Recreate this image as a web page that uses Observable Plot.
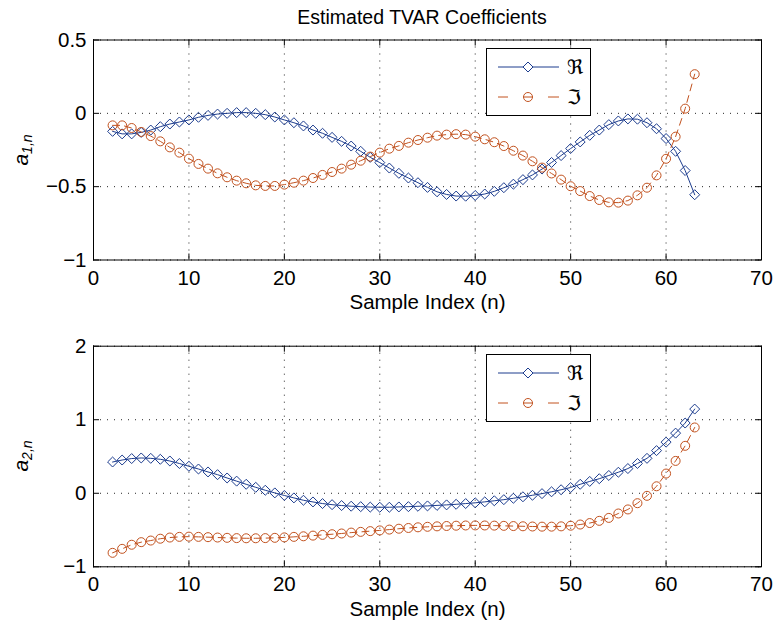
<!DOCTYPE html>
<html>
<head>
<meta charset="utf-8">
<script src="https://cdn.jsdelivr.net/npm/d3@7"></script>
<script src="https://cdn.jsdelivr.net/npm/@observablehq/plot@0.6"></script>
<style>
  html, body { margin: 0; padding: 0; background: white; }
  #wrap { position: relative; width: 773px; height: 623px; overflow: hidden; font-family: "Liberation Sans", Arial, Helvetica, sans-serif; }
  .abs { position: absolute; }
  #title { left: 0; width: 844px; text-align: center; top: 6px; font-size: 19.5px; line-height: 22px; white-space: nowrap; }
  .ylab { font-size: 21px; font-style: italic; white-space: nowrap; transform: translate(-50%, -50%) rotate(-90deg); line-height: 1; }
  .ylab sub { font-size: 14px; vertical-align: -4px; }
</style>
</head>
<body>
<div id="wrap">
  <div id="title" class="abs">Estimated TVAR Coefficients</div>
</div>
<script>
// ---------- data ----------
const sampleIndex = d3.range(2, 64); // n = 2..63

const a1Real = [
  -0.123, -0.140, -0.140, -0.130, -0.114, -0.091, -0.073, -0.059, -0.045, -0.027,
  -0.014, -0.005, 0.000, 0.005, 0.005, 0.000, -0.009, -0.025, -0.045, -0.064,
  -0.086, -0.114, -0.136, -0.164, -0.191, -0.223, -0.259, -0.300, -0.336, -0.373,
  -0.409, -0.441, -0.473, -0.505, -0.535, -0.553, -0.564, -0.565, -0.560, -0.550,
  -0.532, -0.507, -0.483, -0.452, -0.420, -0.380, -0.335, -0.288, -0.240, -0.195,
  -0.150, -0.114, -0.077, -0.052, -0.038, -0.040, -0.064, -0.105, -0.172, -0.259,
  -0.390, -0.555
];
const a1Imag = [
  -0.082, -0.082, -0.100, -0.127, -0.155, -0.191, -0.232, -0.268, -0.309, -0.345,
  -0.377, -0.409, -0.436, -0.459, -0.477, -0.491, -0.495, -0.495, -0.486, -0.473,
  -0.459, -0.441, -0.420, -0.400, -0.377, -0.350, -0.323, -0.295, -0.268, -0.241,
  -0.222, -0.200, -0.182, -0.166, -0.152, -0.145, -0.142, -0.145, -0.159, -0.177,
  -0.197, -0.223, -0.255, -0.288, -0.327, -0.370, -0.410, -0.452, -0.497, -0.530,
  -0.564, -0.591, -0.607, -0.609, -0.595, -0.559, -0.507, -0.423, -0.310, -0.159,
  0.032, 0.267
];
const a2Real = [
  0.425, 0.452, 0.472, 0.480, 0.475, 0.462, 0.439, 0.405, 0.367, 0.330,
  0.290, 0.253, 0.208, 0.165, 0.122, 0.081, 0.041, 0.005, -0.030, -0.063,
  -0.095, -0.118, -0.140, -0.155, -0.167, -0.176, -0.182, -0.188, -0.190, -0.190,
  -0.186, -0.182, -0.177, -0.172, -0.165, -0.158, -0.150, -0.140, -0.130, -0.117,
  -0.102, -0.087, -0.068, -0.048, -0.027, -0.005, 0.020, 0.048, 0.078, 0.122,
  0.161, 0.198, 0.242, 0.286, 0.336, 0.405, 0.475, 0.580, 0.695, 0.818,
  0.955, 1.145
];
const a2Imag = [
  -0.810, -0.756, -0.700, -0.665, -0.643, -0.618, -0.602, -0.593, -0.590, -0.593,
  -0.597, -0.602, -0.606, -0.610, -0.612, -0.612, -0.610, -0.606, -0.600, -0.593,
  -0.585, -0.576, -0.566, -0.557, -0.547, -0.535, -0.525, -0.515, -0.505, -0.494,
  -0.482, -0.472, -0.463, -0.456, -0.450, -0.445, -0.441, -0.438, -0.437, -0.438,
  -0.440, -0.443, -0.446, -0.449, -0.452, -0.454, -0.454, -0.450, -0.441, -0.425,
  -0.405, -0.375, -0.335, -0.275, -0.220, -0.135, -0.035, 0.095, 0.268, 0.440,
  0.645, 0.895
];

const xTicks = [0, 10, 20, 30, 40, 50, 60, 70];
const y1Ticks = [-1, -0.5, 0, 0.5];
const y2Ticks = [-1, 0, 1, 2];
const xLabel = "Sample Index (n)";
const legendLabels = ["\u211C", "\u2111"]; // ℜ, ℑ

// ---------- styles ----------
const blue = "#1c3c8e";
const orange = "#c2521f";
const font = "'Liberation Sans', Arial, Helvetica, sans-serif";
const fmt = d => String(d).replace("-", "\u2212");

function panel(re, im, yDomain, yTicks, height, mt, mb) {
  const rows = sampleIndex.map((n, i) => ({n, re: re[i], im: im[i]}));
  const ph = height - mt - mb;
  const pw = 773 - 93 - 12;
  return Plot.plot({
    width: 773, height,
    marginLeft: 93, marginRight: 12, marginTop: mt, marginBottom: mb,
    style: {fontFamily: font, fontSize: "20.5px", background: "transparent", color: "black", overflow: "visible"},
    x: {domain: [0, 70]},
    y: {domain: yDomain},
    marks: [
      Plot.gridX(xTicks, {stroke: "black", strokeOpacity: 0.85, strokeWidth: 1, strokeDasharray: "1,6"}),
      Plot.gridY(yTicks, {stroke: "black", strokeOpacity: 0.85, strokeWidth: 1, strokeDasharray: "1,6"}),
      // inward ticks on all four sides
      Plot.tickX(xTicks, {x: d => d, insetTop: ph - 6, stroke: "black"}),
      Plot.tickX(xTicks, {x: d => d, insetBottom: ph - 6, stroke: "black"}),
      Plot.tickY(yTicks, {y: d => d, insetRight: pw - 6, stroke: "black"}),
      Plot.tickY(yTicks, {y: d => d, insetLeft: pw - 6, stroke: "black"}),
      Plot.axisX(xTicks, {tickSize: 0, tickPadding: 10, tickFormat: fmt, label: xLabel, labelAnchor: "center", labelOffset: 49, labelArrow: "none"}),
      Plot.axisY(yTicks, {tickSize: 0, tickPadding: 7, tickFormat: fmt, label: null}),
      Plot.line(rows, {x: "n", y: "re", stroke: blue, strokeWidth: 1}),
      Plot.dot(rows, {x: "n", y: "re", symbol: "diamond2", r: 4.5, stroke: blue, fill: "none", strokeWidth: 1}),
      Plot.line(rows, {x: "n", y: "im", stroke: orange, strokeWidth: 1, strokeDasharray: "7,5"}),
      Plot.dot(rows, {x: "n", y: "im", symbol: "circle", r: 4.5, stroke: orange, fill: "none", strokeWidth: 1}),
      Plot.frame({stroke: "black", strokeWidth: 1})
    ]
  });
}

function legendBox(left, top) {
  const svg = d3.create("svg").attr("width", 105).attr("height", 68)
    .style("position", "absolute").style("left", left + "px").style("top", top + "px")
    .style("font-family", "'DejaVu Sans', sans-serif");
  svg.append("rect").attr("x", 0.5).attr("y", 0.5).attr("width", 104).attr("height", 67)
    .attr("fill", "white").attr("stroke", "black").attr("stroke-width", 1);
  const rowsY = [19, 49];
  // Re row
  svg.append("line").attr("x1", 12).attr("x2", 73).attr("y1", rowsY[0]).attr("y2", rowsY[0]).attr("stroke", blue);
  const dsz = 5;
  svg.append("path").attr("d", `M42,${rowsY[0]-dsz}L${42+dsz},${rowsY[0]}L42,${rowsY[0]+dsz}L${42-dsz},${rowsY[0]}Z`)
    .attr("fill", "white").attr("stroke", blue);
  svg.append("text").attr("x", 81).attr("y", rowsY[0]).attr("dy", "0.35em").attr("font-size", 20).text(legendLabels[0]);
  // Im row
  svg.append("line").attr("x1", 12).attr("x2", 22).attr("y1", rowsY[1]).attr("y2", rowsY[1]).attr("stroke", orange);
  svg.append("line").attr("x1", 62).attr("x2", 73).attr("y1", rowsY[1]).attr("y2", rowsY[1]).attr("stroke", orange);
  svg.append("line").attr("x1", 37).attr("x2", 47).attr("y1", rowsY[1]).attr("y2", rowsY[1]).attr("stroke", orange);
  svg.append("circle").attr("cx", 42).attr("cy", rowsY[1]).attr("r", 4.5).attr("fill", "none").attr("stroke", orange);
  svg.append("text").attr("x", 81).attr("y", rowsY[1]).attr("dy", "0.35em").attr("font-size", 20).text(legendLabels[1]);
  return svg.node();
}

const wrap = document.getElementById("wrap");

const p1 = panel(a1Real, a1Imag, [-1, 0.5], y1Ticks, 310, 39.5, 50.5);
p1.style.position = "absolute"; p1.style.left = "0px"; p1.style.top = "0px";
wrap.appendChild(p1);

const p2 = panel(a2Real, a2Imag, [-1, 2], y2Ticks, 313, 35.7, 56.7);
p2.style.position = "absolute"; p2.style.left = "0px"; p2.style.top = "310px";
wrap.appendChild(p2);

wrap.appendChild(legendBox(486, 48));
wrap.appendChild(legendBox(486, 354));

function ylab(html, cx, cy) {
  const d = document.createElement("div");
  d.className = "abs ylab";
  d.style.left = cx + "px"; d.style.top = cy + "px";
  d.innerHTML = html;
  wrap.appendChild(d);
}
ylab("a<sub>1,n</sub>", 22, 150);
ylab("a<sub>2,n</sub>", 22, 456);
</script>
</body>
</html>
